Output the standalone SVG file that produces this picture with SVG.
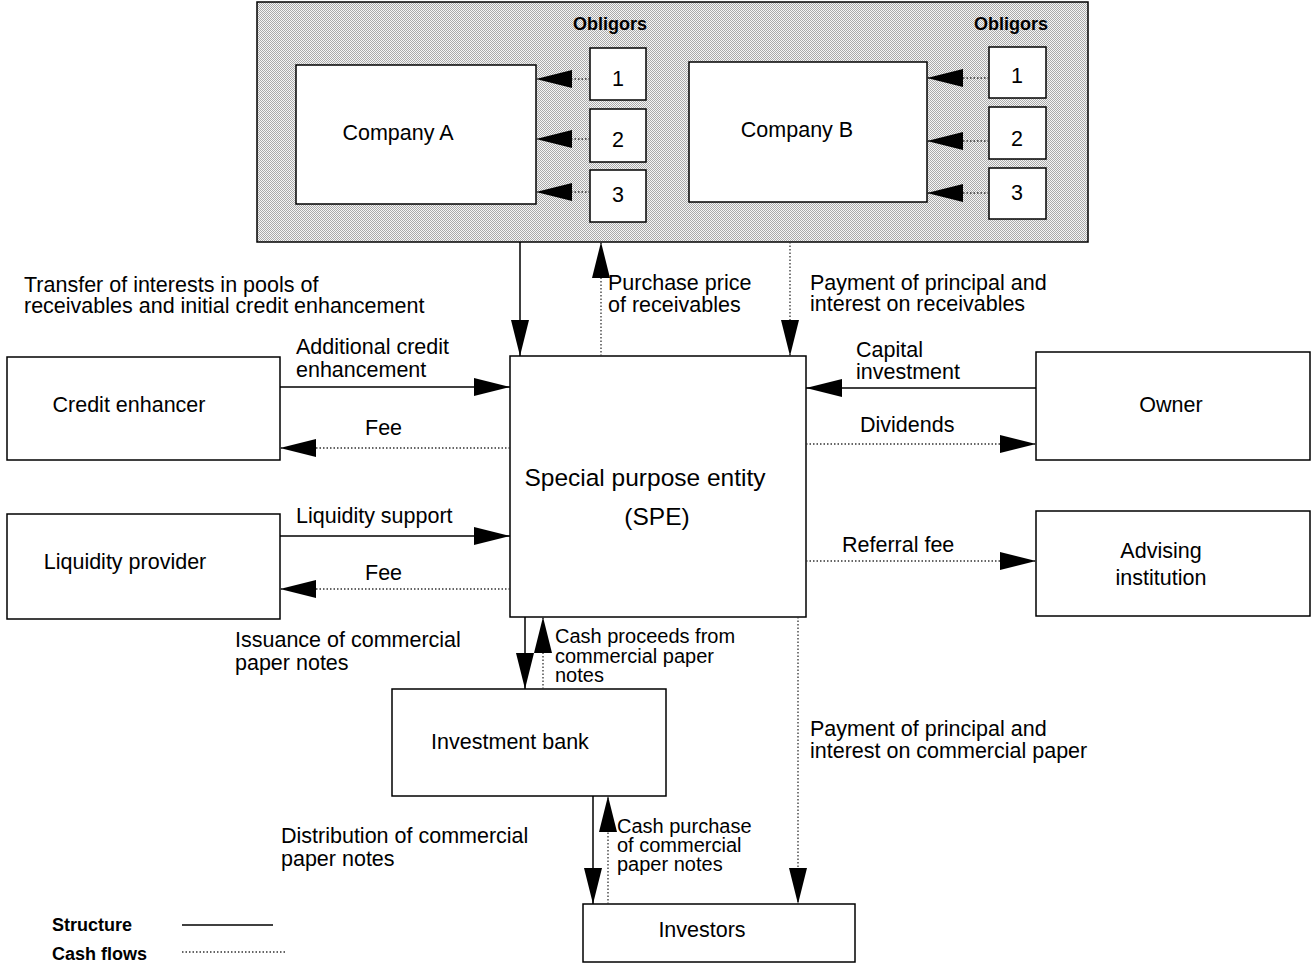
<svg xmlns="http://www.w3.org/2000/svg" width="1312" height="968" viewBox="0 0 1312 968">
<style>
.box{fill:#fff;stroke:#000;stroke-width:1.5}
.t{font-family:"Liberation Sans",Arial,sans-serif;font-size:21.5px;fill:#000}
.c{text-anchor:middle}
.b{font-weight:bold;font-size:18px}
.s{font-size:20px}
.solid{stroke:#000;stroke-width:1.5;fill:none}
.cash{stroke:#333;stroke-width:1.3;stroke-dasharray:1.5 2;fill:none}
.arr{marker-end:url(#ah)}
</style>
<defs>
<marker id="ah" markerUnits="userSpaceOnUse" viewBox="0 0 36 18" markerWidth="36" markerHeight="18" refX="36" refY="9" orient="auto">
<path d="M0,0 L36,9 L0,18 Z" fill="#000"/>
</marker>
<pattern id="dots" width="2" height="2" patternUnits="userSpaceOnUse">
<rect width="2" height="2" fill="#f6f6f6"/>
<rect width="1" height="1" fill="#aaaaaa"/>
<rect x="1" y="1" width="1" height="1" fill="#aaaaaa"/>
</pattern>
</defs>
<rect width="1312" height="968" fill="#fff"/>

<g id="pool">
<rect x="257" y="2" width="831" height="240" fill="url(#dots)" stroke="#000" stroke-width="1.5"/>
<text class="t b c" x="610" y="30">Obligors</text>
<text class="t b c" x="1011" y="30">Obligors</text>
</g>
<g id="company-a">
<rect class="box" x="296" y="65" width="240" height="139"/>
<text class="t c" x="398" y="140">Company A</text>
</g>
<g id="obligor-a1"><rect class="box" x="590" y="48" width="56" height="52"/><text class="t c" x="618" y="86">1</text></g>
<g id="obligor-a2"><rect class="box" x="590" y="109" width="56" height="53"/><text class="t c" x="618" y="147">2</text></g>
<g id="obligor-a3"><rect class="box" x="590" y="170" width="56" height="52"/><text class="t c" x="618" y="202">3</text></g>
<g id="company-b">
<rect class="box" x="689" y="62" width="238" height="140"/>
<text class="t c" x="797" y="137">Company B</text>
</g>
<g id="obligor-b1"><rect class="box" x="989" y="47" width="57" height="51"/><text class="t c" x="1017" y="83">1</text></g>
<g id="obligor-b2"><rect class="box" x="989" y="107" width="57" height="52"/><text class="t c" x="1017" y="146">2</text></g>
<g id="obligor-b3"><rect class="box" x="989" y="168" width="57" height="51"/><text class="t c" x="1017" y="200">3</text></g>

<g id="credit-enhancer">
<rect class="box" x="7" y="357" width="273" height="103"/>
<text class="t c" x="129" y="412">Credit enhancer</text>
</g>
<g id="liquidity-provider">
<rect class="box" x="7" y="514" width="273" height="105"/>
<text class="t c" x="125" y="569">Liquidity provider</text>
</g>
<g id="spe">
<rect class="box" x="510" y="356" width="296" height="261"/>
<text class="t c" x="645" y="486" style="font-size:24.5px">Special purpose entity</text>
<text class="t c" x="657" y="525" style="font-size:24.5px">(SPE)</text>
</g>
<g id="owner">
<rect class="box" x="1036" y="352" width="274" height="108"/>
<text class="t c" x="1171" y="412">Owner</text>
</g>
<g id="advising-institution">
<rect class="box" x="1036" y="511" width="274" height="105"/>
<text class="t c" x="1161" y="558">Advising</text>
<text class="t c" x="1161" y="585">institution</text>
</g>
<g id="investment-bank">
<rect class="box" x="392" y="689" width="274" height="107"/>
<text class="t c" x="510" y="749">Investment bank</text>
</g>
<g id="investors">
<rect class="box" x="583" y="904" width="272" height="58"/>
<text class="t c" x="702" y="937">Investors</text>
</g>

<g id="connectors">
<line class="cash arr" x1="590" y1="79" x2="536" y2="79"/>
<line class="cash arr" x1="590" y1="139" x2="536" y2="139"/>
<line class="cash arr" x1="590" y1="192" x2="536" y2="192"/>
<line class="cash arr" x1="989" y1="78" x2="927" y2="78"/>
<line class="cash arr" x1="989" y1="141" x2="927" y2="141"/>
<line class="cash arr" x1="989" y1="193" x2="927" y2="193"/>
<line class="solid arr" x1="520" y1="242" x2="520" y2="356"/>
<line class="cash arr" x1="601" y1="356" x2="601" y2="242"/>
<line class="cash arr" x1="790" y1="242" x2="790" y2="356"/>
<line class="solid arr" x1="280" y1="387" x2="510" y2="387"/>
<line class="cash arr" x1="510" y1="448" x2="280" y2="448"/>
<line class="solid arr" x1="280" y1="536" x2="510" y2="536"/>
<line class="cash arr" x1="510" y1="589" x2="280" y2="589"/>
<line class="solid arr" x1="1036" y1="388" x2="806" y2="388"/>
<line class="cash arr" x1="806" y1="444" x2="1036" y2="444"/>
<line class="cash arr" x1="806" y1="561" x2="1036" y2="561"/>
<line class="solid arr" x1="525" y1="617" x2="525" y2="689"/>
<line class="cash arr" x1="543" y1="689" x2="543" y2="617"/>
<line class="cash arr" x1="798" y1="617" x2="798" y2="904"/>
<line class="solid arr" x1="593" y1="796" x2="593" y2="904"/>
<line class="cash arr" x1="608" y1="904" x2="608" y2="796"/>
</g>

<g id="labels">
<text class="t" x="24" y="292">Transfer of interests in pools of</text>
<text class="t" x="24" y="313">receivables and initial credit enhancement</text>
<text class="t" x="608" y="290">Purchase price</text>
<text class="t" x="608" y="312">of receivables</text>
<text class="t" x="810" y="290">Payment of principal and</text>
<text class="t" x="810" y="311">interest on receivables</text>
<text class="t" x="296" y="354">Additional credit</text>
<text class="t" x="296" y="377">enhancement</text>
<text class="t" x="365" y="435">Fee</text>
<text class="t" x="856" y="357">Capital</text>
<text class="t" x="856" y="379">investment</text>
<text class="t" x="860" y="432">Dividends</text>
<text class="t" x="296" y="523">Liquidity support</text>
<text class="t" x="365" y="580">Fee</text>
<text class="t" x="842" y="552">Referral fee</text>
<text class="t" x="235" y="647">Issuance of commercial</text>
<text class="t" x="235" y="670">paper notes</text>
<text class="t s" x="555" y="643">Cash proceeds from</text>
<text class="t s" x="555" y="663">commercial paper</text>
<text class="t s" x="555" y="682">notes</text>
<text class="t" x="810" y="736">Payment of principal and</text>
<text class="t" x="810" y="758">interest on commercial paper</text>
<text class="t" x="281" y="843">Distribution of commercial</text>
<text class="t" x="281" y="866">paper notes</text>
<text class="t s" x="617" y="833">Cash purchase</text>
<text class="t s" x="617" y="852">of commercial</text>
<text class="t s" x="617" y="871">paper notes</text>
</g>

<g id="legend">
<text class="t b" x="52" y="931">Structure</text>
<text class="t b" x="52" y="960">Cash flows</text>
<line class="solid" x1="182" y1="925" x2="273" y2="925"/>
<line class="cash" x1="182" y1="952" x2="285" y2="952"/>
</g>
</svg>
